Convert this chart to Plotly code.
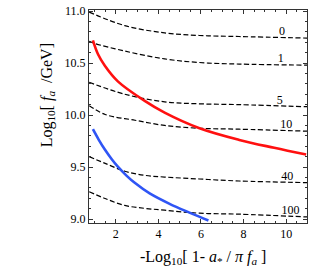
import plotly.graph_objects as go

# dashed iso-lines (labels 0,1,5,10,40,100)
x_l0 = [0.75, 2.42, 4.29, 5.93, 7.79, 10.98]
y_l0 = [10.99, 10.86, 10.79, 10.765, 10.755, 10.74]
x_l1 = [0.75, 0.98, 2.42, 4.29, 5.93, 7.79, 10.98]
y_l1 = [10.71, 10.69, 10.615, 10.54, 10.505, 10.49, 10.48]
x_l5 = [0.75, 2.42, 4.29, 5.93, 7.79, 10.98]
y_l5 = [10.315, 10.20, 10.127, 10.108, 10.10, 10.08]
x_l10 = [0.75, 1.5, 2.9, 4.29, 5.93, 7.79, 10.98]
y_l10 = [10.09, 10.005, 9.95, 9.90, 9.873, 9.864, 9.845]
x_l40 = [0.75, 1.5, 2.42, 3.36, 4.29, 5.93, 7.79, 10.98]
y_l40 = [9.60, 9.535, 9.46, 9.42, 9.404, 9.385, 9.366, 9.35]
x_l100 = [0.75, 1.5, 2.42, 3.36, 4.29, 5.93, 7.79, 10.98]
y_l100 = [9.263, 9.197, 9.131, 9.103, 9.085, 9.056, 9.047, 9.02]
line_labels = ["0", "1", "5", "10", "40", "100"]
label_x = [9.8, 9.75, 9.7, 10.0, 10.05, 10.2]

# red and blue curves
x_red = [0.924, 1.158, 1.485, 2.094, 3.357, 4.292, 5.93, 7.80, 9.44, 10.94]
y_red = [10.718, 10.587, 10.474, 10.324, 10.136, 10.023, 9.873, 9.761, 9.685, 9.62]
x_blue = [0.924, 1.2, 1.485, 1.8, 2.094, 2.5, 2.889, 3.59, 4.526, 5.46, 6.35]
y_blue = [9.864, 9.762, 9.668, 9.577, 9.503, 9.418, 9.348, 9.246, 9.146, 9.062, 8.986]

x_ticks = [2, 4, 6, 8, 10]
y_ticks = [9.0, 9.5, 10.0, 10.5, 11.0]

fig = go.Figure()
dashed = [(x_l0, y_l0), (x_l1, y_l1), (x_l5, y_l5), (x_l10, y_l10), (x_l40, y_l40), (x_l100, y_l100)]
for xs, ys in dashed:
    fig.add_trace(go.Scatter(x=xs, y=ys, mode="lines", line=dict(color="black", width=1.2, dash="5px,2.5px", shape="spline"),
                             hoverinfo="skip", showlegend=False))
fig.add_trace(go.Scatter(x=x_red, y=y_red, mode="lines", line=dict(color="#ff1010", width=2.6, shape="spline"), showlegend=False))
fig.add_trace(go.Scatter(x=x_blue, y=y_blue, mode="lines", line=dict(color="#2f55f5", width=2.6, shape="spline"), showlegend=False))

serif = "Liberation Serif"
fig.add_trace(go.Scatter(x=label_x, y=[ys[-1] for _, ys in dashed], mode="text", text=line_labels,
                         textposition="top center", textfont=dict(family=serif, size=12, color="black"),
                         hoverinfo="skip", showlegend=False))

fig.add_annotation(xref="paper", yref="paper", x=-0.192, y=0.60, xanchor="center", yanchor="middle",
                   textangle=-90,
                   text="Log<sub>10</sub>[ <i>f<sub>a</sub></i>  /GeV]", showarrow=False,
                   font=dict(family=serif, size=16, color="black"))
fig.add_annotation(xref="paper", yref="paper", x=0.525, y=-0.161, xanchor="center", yanchor="middle",
                   text="-Log<sub>10</sub>[ 1- <i>a</i><sub>*</sub> / <i>π f<sub>a</sub></i> ]", showarrow=False,
                   font=dict(family=serif, size=16, color="black"))

axis_common = dict(showgrid=False, zeroline=False, showline=True, linecolor="#333", linewidth=1,
                   mirror="allticks", ticks="inside", ticklen=4, tickcolor="#333", ticklabeloverflow="allow",
                   tickfont=dict(family=serif, size=12, color="black"))
fig.update_xaxes(range=[0.74, 10.98], tickvals=x_ticks, ticktext=[str(v) for v in x_ticks],
                 minor=dict(dtick=0.5, ticks="inside", ticklen=2, tickcolor="#333"), **axis_common)
fig.update_yaxes(range=[8.962, 11.01], tickvals=y_ticks, ticktext=["%.1f" % v for v in y_ticks],
                 minor=dict(dtick=0.1, ticks="inside", ticklen=2, tickcolor="#333"), **axis_common)
fig.update_layout(width=312, height=272, margin=dict(l=89, r=4, t=5, b=49),
                  plot_bgcolor="white", paper_bgcolor="white")
fig.write_html("out.html", config={"displayModeBar": False},
               post_script="document.body.style.margin='0px';document.body.style.overflow='hidden';")
